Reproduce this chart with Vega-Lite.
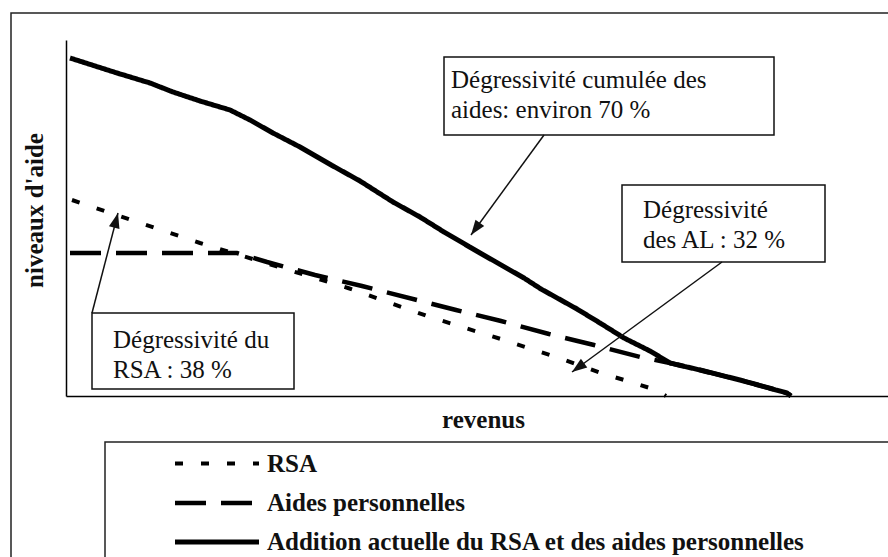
{
  "$schema": "https://vega.github.io/schema/vega-lite/v6.json",
  "width": 822,
  "height": 356,
  "autosize": {"type": "none"},
  "padding": {"left": 66, "top": 40, "right": 0, "bottom": 161},
  "background": "white",
  "config": {
    "view": {"stroke": null},
    "font": "Liberation Serif",
    "axis": {"labels": false, "ticks": false, "grid": false, "domainColor": "black", "domainWidth": 1.5, "titleFont": "Liberation Serif", "titleFontSize": 25, "titleFontWeight": "bold", "titleColor": "#111"}
  },
  "datasets": {
    "courbes": [
      {"serie": "RSA", "revenu": 6, "niveau": 196},
      {"serie": "RSA", "revenu": 134, "niveau": 153},
      {"serie": "RSA", "revenu": 282, "niveau": 108},
      {"serie": "RSA", "revenu": 364, "niveau": 79},
      {"serie": "RSA", "revenu": 438, "niveau": 56},
      {"serie": "RSA", "revenu": 490, "niveau": 39},
      {"serie": "RSA", "revenu": 538, "niveau": 22},
      {"serie": "RSA", "revenu": 565, "niveau": 14},
      {"serie": "RSA", "revenu": 590, "niveau": 6},
      {"serie": "RSA", "revenu": 600, "niveau": 0},
      {"serie": "Aides personnelles", "revenu": 4, "niveau": 143},
      {"serie": "Aides personnelles", "revenu": 171, "niveau": 143},
      {"serie": "Aides personnelles", "revenu": 201, "niveau": 134},
      {"serie": "Aides personnelles", "revenu": 249, "niveau": 121},
      {"serie": "Aides personnelles", "revenu": 296, "niveau": 110},
      {"serie": "Aides personnelles", "revenu": 390, "niveau": 86},
      {"serie": "Aides personnelles", "revenu": 435, "niveau": 75},
      {"serie": "Aides personnelles", "revenu": 483, "niveau": 62},
      {"serie": "Aides personnelles", "revenu": 528, "niveau": 51},
      {"serie": "Aides personnelles", "revenu": 574, "niveau": 39},
      {"serie": "Aides personnelles", "revenu": 604, "niveau": 33},
      {"serie": "Aides personnelles", "revenu": 634, "niveau": 26},
      {"serie": "Aides personnelles", "revenu": 674, "niveau": 16},
      {"serie": "Aides personnelles", "revenu": 721, "niveau": 3},
      {"serie": "Aides personnelles", "revenu": 725, "niveau": 0},
      {"serie": "Addition actuelle du RSA et des aides personnelles", "revenu": 4, "niveau": 338},
      {"serie": "Addition actuelle du RSA et des aides personnelles", "revenu": 51, "niveau": 323},
      {"serie": "Addition actuelle du RSA et des aides personnelles", "revenu": 84, "niveau": 313},
      {"serie": "Addition actuelle du RSA et des aides personnelles", "revenu": 107, "niveau": 304},
      {"serie": "Addition actuelle du RSA et des aides personnelles", "revenu": 134, "niveau": 295},
      {"serie": "Addition actuelle du RSA et des aides personnelles", "revenu": 164, "niveau": 286},
      {"serie": "Addition actuelle du RSA et des aides personnelles", "revenu": 184, "niveau": 276},
      {"serie": "Addition actuelle du RSA et des aides personnelles", "revenu": 207, "niveau": 263},
      {"serie": "Addition actuelle du RSA et des aides personnelles", "revenu": 234, "niveau": 249},
      {"serie": "Addition actuelle du RSA et des aides personnelles", "revenu": 267, "niveau": 230},
      {"serie": "Addition actuelle du RSA et des aides personnelles", "revenu": 294, "niveau": 215},
      {"serie": "Addition actuelle du RSA et des aides personnelles", "revenu": 327, "niveau": 194},
      {"serie": "Addition actuelle du RSA et des aides personnelles", "revenu": 354, "niveau": 179},
      {"serie": "Addition actuelle du RSA et des aides personnelles", "revenu": 378, "niveau": 164},
      {"serie": "Addition actuelle du RSA et des aides personnelles", "revenu": 414, "niveau": 143},
      {"serie": "Addition actuelle du RSA et des aides personnelles", "revenu": 458, "niveau": 118},
      {"serie": "Addition actuelle du RSA et des aides personnelles", "revenu": 475, "niveau": 107},
      {"serie": "Addition actuelle du RSA et des aides personnelles", "revenu": 511, "niveau": 87},
      {"serie": "Addition actuelle du RSA et des aides personnelles", "revenu": 534, "niveau": 73},
      {"serie": "Addition actuelle du RSA et des aides personnelles", "revenu": 558, "niveau": 58},
      {"serie": "Addition actuelle du RSA et des aides personnelles", "revenu": 584, "niveau": 45},
      {"serie": "Addition actuelle du RSA et des aides personnelles", "revenu": 604, "niveau": 33},
      {"serie": "Addition actuelle du RSA et des aides personnelles", "revenu": 634, "niveau": 26},
      {"serie": "Addition actuelle du RSA et des aides personnelles", "revenu": 674, "niveau": 16},
      {"serie": "Addition actuelle du RSA et des aides personnelles", "revenu": 721, "niveau": 3},
      {"serie": "Addition actuelle du RSA et des aides personnelles", "revenu": 725, "niveau": 0}
    ],
    "cadres": [
      {"cadre": "page", "revenu": -55, "niveau": 383, "revenu2": 860, "niveau2": -190},
      {"cadre": "légende", "revenu": 39, "niveau": -46, "revenu2": 860, "niveau2": -190}
    ],
    "boites": [
      {"revenu": 378, "niveau": 339, "revenu2": 708, "niveau2": 261},
      {"revenu": 556, "niveau": 211, "revenu2": 759, "niveau2": 134},
      {"revenu": 26, "niveau": 83, "revenu2": 228, "niveau2": 7}
    ],
    "fleches": [
      {"revenu": 478, "niveau": 261, "revenu2": 405, "niveau2": 161},
      {"revenu": 656, "niveau": 134, "revenu2": 506, "niveau2": 24},
      {"revenu": 26, "niveau": 83, "revenu2": 52, "niveau2": 183}
    ],
    "textes": [
      {"revenu": 385, "niveau": 308, "texte": "Dégressivité cumulée des\naides: environ 70 %"},
      {"revenu": 577, "niveau": 178, "texte": "Dégressivité\ndes AL : 32 %"},
      {"revenu": 47, "niveau": 48, "texte": "Dégressivité du\nRSA : 38 %"}
    ]
  },
  "encoding": {
    "x": {"field": "revenu", "type": "quantitative", "scale": {"domain": [0, 822], "nice": false, "zero": false}, "axis": {"title": "revenus", "titleBaseline": "alphabetic", "titleY": 31, "titleX": 417}},
    "y": {"field": "niveau", "type": "quantitative", "scale": {"domain": [0, 356], "nice": false, "zero": false}, "axis": {"title": "niveaux d'aide", "titleBaseline": "alphabetic", "titleX": -24, "titleY": 170}}
  },
  "layer": [
    {
      "data": {"name": "cadres"},
      "mark": {"type": "rect", "fill": "transparent", "stroke": "#222", "strokeWidth": 1.5},
      "encoding": {"x2": {"field": "revenu2"}, "y2": {"field": "niveau2"}}
    },
    {
      "data": {"name": "courbes"},
      "mark": {"type": "line", "color": "black", "strokeCap": "butt"},
      "encoding": {
        "strokeDash": {
          "field": "serie", "type": "nominal",
          "scale": {"domain": ["RSA", "Aides personnelles", "Addition actuelle du RSA et des aides personnelles"], "range": [[8, 18], [31, 15], [1, 0]]},
          "legend": {
            "orient": "none", "legendX": 138, "legendY": 411, "title": null, "padding": 0,
            "symbolType": "M-4,0H4", "symbolSize": 441, "symbolStrokeWidth": 5, "symbolStrokeColor": "black",
            "labelFont": "Liberation Serif", "labelFontSize": 25, "labelFontWeight": "bold", "labelColor": "#111",
            "labelOffset": 37, "rowPadding": 13, "labelLimit": 800
          }
        },
        "strokeWidth": {
          "field": "serie", "type": "nominal",
          "scale": {"domain": ["RSA", "Aides personnelles", "Addition actuelle du RSA et des aides personnelles"], "range": [4, 5, 3.5]},
          "legend": null
        },
        "order": {"field": "revenu", "type": "quantitative"}
      }
    },
    {
      "data": {"name": "boites"},
      "mark": {"type": "rect", "fill": "white", "stroke": "#111", "strokeWidth": 1.5},
      "encoding": {"x2": {"field": "revenu2"}, "y2": {"field": "niveau2"}}
    },
    {
      "data": {"name": "fleches"},
      "mark": {"type": "rule", "color": "#111", "strokeWidth": 1.5},
      "encoding": {"x2": {"field": "revenu2"}, "y2": {"field": "niveau2"}}
    },
    {
      "data": {"name": "fleches"},
      "transform": [{"calculate": "atan2(datum.revenu2 - datum.revenu, datum.niveau2 - datum.niveau) * 180 / PI", "as": "angle"}],
      "mark": {"type": "point", "shape": "M0,0L-0.36,1L0.36,1Z", "filled": true, "color": "#111", "size": 900, "opacity": 1, "strokeWidth": 0},
      "encoding": {
        "x": {"field": "revenu2", "type": "quantitative"},
        "y": {"field": "niveau2", "type": "quantitative"},
        "angle": {"field": "angle", "type": "quantitative", "scale": null}
      }
    },
    {
      "data": {"name": "textes"},
      "mark": {"type": "text", "align": "left", "baseline": "alphabetic", "lineBreak": "\n", "lineHeight": 30, "font": "Liberation Serif", "fontSize": 25, "color": "#111"},
      "encoding": {"text": {"field": "texte"}}
    }
  ]
}
